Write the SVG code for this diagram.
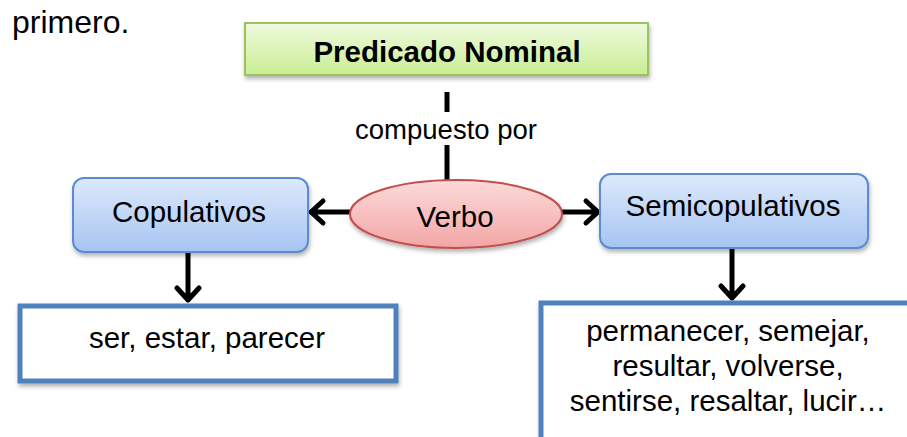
<svg xmlns="http://www.w3.org/2000/svg" width="907" height="437" viewBox="0 0 907 437">
<defs>
<linearGradient id="gGreen" x1="0" y1="0" x2="0" y2="1"><stop offset="0" stop-color="#effadf"/><stop offset="1" stop-color="#c9ee93"/></linearGradient>
<linearGradient id="gBlue" x1="0" y1="0" x2="0" y2="1"><stop offset="0" stop-color="#dde9fb"/><stop offset="1" stop-color="#a6c4f2"/></linearGradient>
<linearGradient id="gRed" x1="0" y1="0" x2="0" y2="1"><stop offset="0" stop-color="#fcdada"/><stop offset="1" stop-color="#f3a6a6"/></linearGradient>
<filter id="sh" x="-10%" y="-20%" width="120%" height="150%"><feDropShadow dx="1" dy="3" stdDeviation="2" flood-color="#000" flood-opacity="0.3"/></filter>
</defs>
<style>
text{font-family:"Liberation Sans",Arial,sans-serif;fill:#000;font-size:29.5px;}
.c{text-anchor:middle;}
.b{font-weight:bold;}
.line{stroke:#000;stroke-width:5;fill:none;}
.arrow{stroke:#000;stroke-width:5;fill:none;}
.blue{fill:url(#gBlue);stroke:#5b8bd0;stroke-width:2;}
.plain{fill:#fff;stroke:#4f81bd;stroke-width:5;}
</style>
<rect width="907" height="437" fill="#fff"/>
<text x="12" y="33" style="font-size:32px">primero.</text>
<g id="connectors">
<line class="line" x1="447" y1="92" x2="447" y2="112"/>
<line class="line" x1="447" y1="145" x2="447" y2="182"/>
<text class="c" x="446" y="139" style="font-size:27.5px">compuesto por</text>
<g class="arrow" stroke-linecap="round" stroke-linejoin="round">
<path d="M350,212 L311,212 M323,201 L311,212 L323,223"/>
<path d="M562,212 L598,212 M586,201 L598,212 L586,223"/>
<path d="M188,252 L188,300 M177,288 L188,300 L199,288"/>
<path d="M732,248 L732,298 M721,286 L732,298 L743,286"/>
</g>
</g>
<g id="predicado">
<rect x="245" y="23" width="403" height="52" fill="url(#gGreen)" stroke="#9bc25c" stroke-width="2" filter="url(#sh)"/>
<text class="c b" x="447" y="62">Predicado Nominal</text>
</g>
<g id="verbo">
<ellipse cx="456" cy="214" rx="106" ry="34" fill="url(#gRed)" stroke="#c0504d" stroke-width="2" filter="url(#sh)"/>
<text class="c" x="455" y="227">Verbo</text>
</g>
<g id="copulativos">
<rect class="blue" x="73" y="178" width="235" height="74" rx="11" filter="url(#sh)"/>
<text class="c" x="189" y="222">Copulativos</text>
</g>
<g id="semicopulativos">
<rect class="blue" x="600" y="174" width="268" height="74" rx="11" filter="url(#sh)"/>
<text class="c" x="733" y="216">Semicopulativos</text>
</g>
<g id="ejemplos-copulativos">
<rect class="plain" x="20" y="306" width="376" height="75" filter="url(#sh)"/>
<text class="c" x="207" y="348">ser, estar, parecer</text>
</g>
<g id="ejemplos-semicopulativos">
<rect class="plain" x="541" y="303" width="380" height="150" filter="url(#sh)"/>
<text class="c" x="728" y="341">permanecer, semejar,</text>
<text class="c" x="728" y="376">resultar, volverse,</text>
<text class="c" x="728" y="411">sentirse, resaltar, lucir…</text>
</g>
</svg>
